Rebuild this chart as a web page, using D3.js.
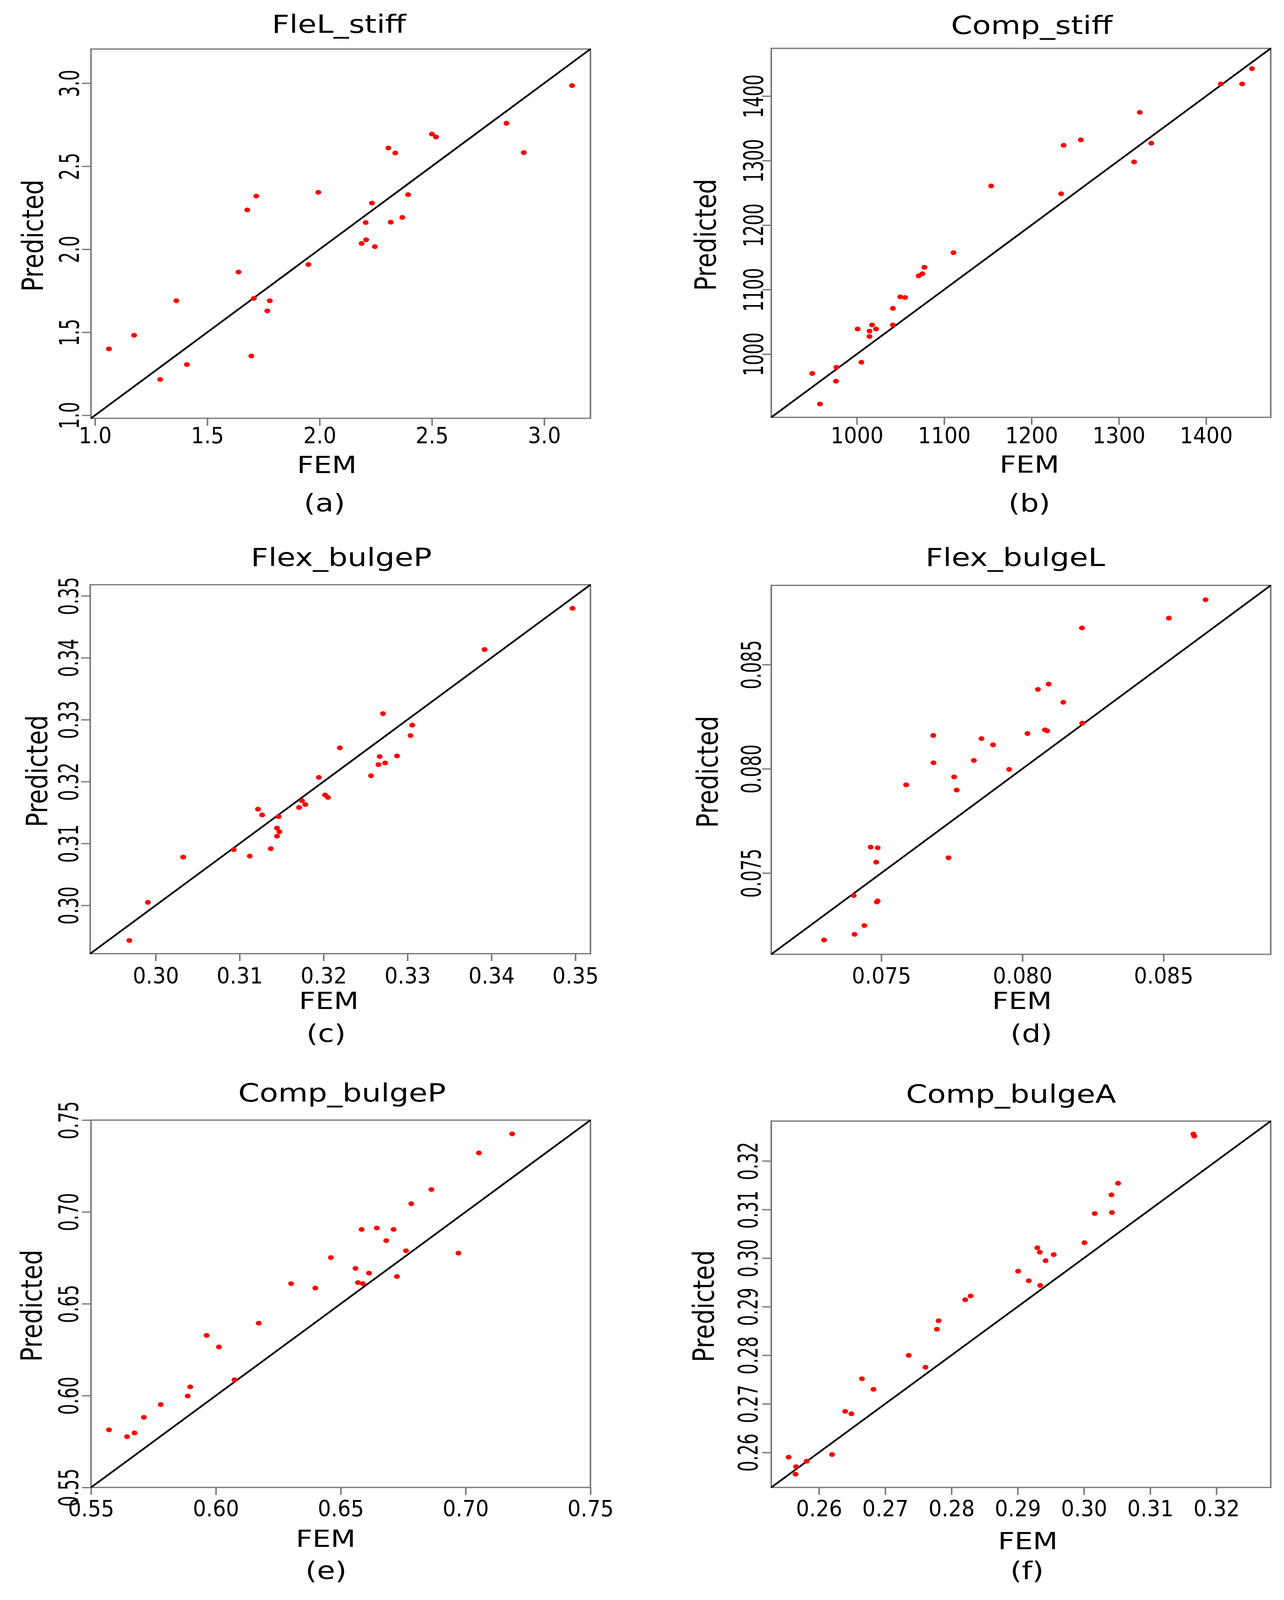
<!DOCTYPE html>
<html>
<head>
<meta charset="utf-8">
<script src="https://cdn.jsdelivr.net/npm/d3@7"></script>
<style>
  html, body { margin: 0; padding: 0; height: 100%; overflow: hidden; background: #fff; }
  svg { display: block; width: 100vw; height: 100vh; }
  text { font-family: "DejaVu Sans", Verdana, sans-serif; fill: #000; }
</style>
</head>
<body>
<div id="chart"></div>
<script>
const W = 3288;
const H = 4961;

// (a) FleL_stiff
const fleLFem  = [1.062, 1.174, 1.290, 1.362, 1.409, 1.639, 1.678, 1.718, 1.696, 1.707, 1.778, 1.767, 1.950, 1.994, 2.187, 2.205, 2.207, 2.233, 2.246, 2.306, 2.337, 2.317, 2.368, 2.394, 2.500, 2.518, 2.832, 2.909, 3.124];
const fleLPred = [1.400, 1.482, 1.216, 1.690, 1.306, 1.863, 2.237, 2.320, 1.357, 1.704, 1.690, 1.629, 1.908, 2.343, 2.035, 2.161, 2.057, 2.278, 2.016, 2.610, 2.580, 2.163, 2.192, 2.329, 2.694, 2.676, 2.759, 2.582, 2.986];

// (b) Comp_stiff
const compFem  = [948.9, 957.8, 976.6, 976.1, 1000.9, 1005.2, 1014.5, 1014.5, 1017.4, 1022.0, 1041.3, 1041.3, 1049.7, 1055.3, 1070.8, 1075.0, 1077.4, 1110.7, 1153.8, 1234.0, 1236.8, 1256.5, 1317.5, 1324.0, 1337.2, 1416.9, 1441.3, 1452.5];
const compPred = [970.0, 922.7, 979.5, 958.0, 1039.0, 987.4, 1035.7, 1027.3, 1045.2, 1039.0, 1071.0, 1045.2, 1088.8, 1087.8, 1121.4, 1124.6, 1134.6, 1157.2, 1260.7, 1248.6, 1323.8, 1332.2, 1298.0, 1374.8, 1327.0, 1418.9, 1418.9, 1442.6];

// (c) Flex_bulgeP
const bulgePFem  = [0.29687, 0.29907, 0.30328, 0.30930, 0.31121, 0.31219, 0.31268, 0.31371, 0.31445, 0.31474, 0.31445, 0.31464, 0.31709, 0.31743, 0.31783, 0.31944, 0.32018, 0.32052, 0.32194, 0.32566, 0.32654, 0.32669, 0.32733, 0.32708, 0.32875, 0.33036, 0.33056, 0.33918, 0.34966];
const bulgePPred = [0.29433, 0.30049, 0.30780, 0.30900, 0.30796, 0.31554, 0.31461, 0.30916, 0.31249, 0.31189, 0.31118, 0.31434, 0.31581, 0.31690, 0.31630, 0.32067, 0.31783, 0.31745, 0.32546, 0.32094, 0.32274, 0.32405, 0.32301, 0.33097, 0.32415, 0.32743, 0.32912, 0.34133, 0.34798];

// (d) Flex_bulgeL
const bulgeLFem  = [0.07297, 0.07405, 0.07440, 0.07402, 0.07484, 0.07487, 0.07482, 0.07462, 0.07487, 0.07588, 0.07684, 0.07685, 0.07738, 0.07758, 0.07767, 0.07828, 0.07855, 0.07896, 0.07953, 0.08018, 0.08055, 0.08080, 0.08088, 0.08093, 0.08145, 0.08211, 0.08212, 0.08519, 0.08649];
const bulgeLPred = [0.07179, 0.07206, 0.07248, 0.07392, 0.07361, 0.07366, 0.07552, 0.07624, 0.07621, 0.07923, 0.08160, 0.08029, 0.07573, 0.07961, 0.07898, 0.08040, 0.08145, 0.08115, 0.07997, 0.08169, 0.08381, 0.08187, 0.08182, 0.08406, 0.08319, 0.08676, 0.08219, 0.08723, 0.08811];

// (e) Comp_bulgeP
const cBulgePFem  = [0.55722, 0.56445, 0.56741, 0.57118, 0.57791, 0.58875, 0.58974, 0.59631, 0.60123, 0.60747, 0.61716, 0.63013, 0.63982, 0.64606, 0.65591, 0.65690, 0.65887, 0.65837, 0.66133, 0.66445, 0.66823, 0.67118, 0.67250, 0.67611, 0.67824, 0.68629, 0.69713, 0.70534, 0.71864];
const cBulgePPred = [0.58134, 0.57765, 0.57968, 0.58816, 0.59516, 0.59977, 0.60475, 0.63276, 0.62650, 0.60862, 0.63940, 0.66097, 0.65857, 0.67516, 0.66926, 0.66152, 0.66097, 0.69046, 0.66668, 0.69120, 0.68438, 0.69046, 0.66484, 0.67885, 0.70447, 0.71221, 0.67756, 0.73212, 0.74244];

// (f) Comp_bulgeA
const cBulgeAFem  = [0.25542, 0.25654, 0.25647, 0.25814, 0.26198, 0.26396, 0.26489, 0.26649, 0.26823, 0.27355, 0.27608, 0.27781, 0.27806, 0.28208, 0.28289, 0.29006, 0.29167, 0.29297, 0.29334, 0.29340, 0.29421, 0.29544, 0.30008, 0.30163, 0.30423, 0.30416, 0.30515, 0.31653, 0.31666];
const cBulgeAPred = [0.25902, 0.25707, 0.25553, 0.25819, 0.25958, 0.26845, 0.26796, 0.27516, 0.27299, 0.27998, 0.27753, 0.28536, 0.28710, 0.29143, 0.29220, 0.29730, 0.29534, 0.30212, 0.30121, 0.29437, 0.29947, 0.30072, 0.30317, 0.30917, 0.30938, 0.31302, 0.31539, 0.32552, 0.32510];

const titles  = ["FleL_stiff", "Comp_stiff", "Flex_bulgeP", "Flex_bulgeL", "Comp_bulgeP", "Comp_bulgeA"];
const letters = ["(a)", "(b)", "(c)", "(d)", "(e)", "(f)"];
const femSets  = [fleLFem, compFem, bulgePFem, bulgeLFem, cBulgePFem, cBulgeAFem];
const predSets = [fleLPred, compPred, bulgePPred, bulgeLPred, cBulgePPred, cBulgeAPred];

// axis limits (same for FEM and Predicted) and tick labels
const limits = [[0.982, 3.206], [902, 1474], [0.2922, 0.3518], [0.0711, 0.0888], [0.55, 0.75], [0.2528, 0.3282]];
const ticks = [
  [1.0, 1.5, 2.0, 2.5, 3.0],
  [1000, 1100, 1200, 1300, 1400],
  [0.30, 0.31, 0.32, 0.33, 0.34, 0.35],
  [0.075, 0.080, 0.085],
  [0.55, 0.60, 0.65, 0.70, 0.75],
  [0.26, 0.27, 0.28, 0.29, 0.30, 0.31, 0.32]
];
const tickFormats = [".1f", "d", ".2f", ".3f", ".2f", ".2f"];

// where each panel sits on the page (pixels)
const layout = [
  {x0: 233,  y0: 152,  w: 1279, h: 1145, title: [868, 102],   xlab: [837, 1467],  tag: [831, 1586],  ylab: 110,  ytick: 202,  xtick: 1375},
  {x0: 1975, y0: 150,  w: 1279, h: 1144, title: [2642, 105],  xlab: [2636, 1465], tag: [2636, 1586], ylab: 1833, ytick: 1954, xtick: 1375},
  {x0: 231,  y0: 1813, w: 1281, h: 1144, title: [874, 1755],  xlab: [842, 3128],  tag: [835, 3230],  ylab: 121,  ytick: 200,  xtick: 3050},
  {x0: 1975, y0: 1815, w: 1279, h: 1144, title: [2600, 1755], xlab: [2617, 3128], tag: [2641, 3230], ylab: 1838, ytick: 1948, xtick: 3050},
  {x0: 233,  y0: 3473, w: 1279, h: 1139, title: [876, 3415],  xlab: [834, 4796],  tag: [835, 4896],  ylab: 107,  ytick: 200,  xtick: 4702},
  {x0: 1975, y0: 3476, w: 1279, h: 1136, title: [2589, 3419], xlab: [2632, 4804], tag: [2630, 4896], ylab: 1828, ytick: 1940, xtick: 4702}
];

const BOX_COLOR = "#7a7a7a";
const TICK_LEN = 23;
const TICK_FONT = 70;
const TICK_SQUEEZE = 0.76;

// the drawing keeps its 3288x4961 coordinates and is fitted to the window
const svg = d3.select("#chart")
  .append("svg")
  .attr("viewBox", `0 0 ${W} ${H}`)
  .attr("preserveAspectRatio", "none");

svg.append("rect").attr("width", W).attr("height", H).attr("fill", "#fff");

titles.forEach((title, i) => {
  const L = layout[i];
  const x = d3.scaleLinear().domain(limits[i]).range([L.x0, L.x0 + L.w]);
  const y = d3.scaleLinear().domain(limits[i]).range([L.y0 + L.h, L.y0]);
  const fmt = d3.format(tickFormats[i]);
  const g = svg.append("g").attr("class", "panel");

  // bottom axis
  const gx = g.append("g")
    .attr("transform", `translate(0,${L.y0 + L.h})`)
    .call(d3.axisBottom(x).tickValues(ticks[i]).tickFormat(fmt).tickSize(TICK_LEN));
  gx.select(".domain").remove();
  gx.selectAll(".tick line").attr("stroke", BOX_COLOR).attr("stroke-width", 4);
  gx.selectAll(".tick text")
    .attr("y", L.xtick - (L.y0 + L.h))
    .attr("dy", 0)
    .attr("font-size", TICK_FONT)
    .attr("font-family", "DejaVu Sans")
    .attr("fill", "#000")
    .attr("transform", `scale(${TICK_SQUEEZE},1)`);

  // left axis
  const gy = g.append("g")
    .attr("transform", `translate(${L.x0},0)`)
    .call(d3.axisLeft(y).tickValues(ticks[i]).tickFormat(fmt).tickSize(TICK_LEN));
  gy.select(".domain").remove();
  gy.selectAll(".tick line").attr("stroke", BOX_COLOR).attr("stroke-width", 4);
  gy.selectAll(".tick text")
    .attr("x", 0)
    .attr("y", 0)
    .attr("dy", 0)
    .attr("text-anchor", "middle")
    .attr("font-size", TICK_FONT)
    .attr("font-family", "DejaVu Sans")
    .attr("fill", "#000")
    .attr("transform", `translate(${L.ytick - L.x0},0) rotate(-90) scale(${TICK_SQUEEZE},1)`);

  // plot frame
  g.append("rect")
    .attr("x", L.x0)
    .attr("y", L.y0)
    .attr("width", L.w)
    .attr("height", L.h)
    .attr("fill", "none")
    .attr("stroke", BOX_COLOR)
    .attr("stroke-width", 4);

  // 1:1 line
  const lo = limits[i][0], hi = limits[i][1];
  g.append("line")
    .attr("x1", x(lo)).attr("y1", y(lo))
    .attr("x2", x(hi)).attr("y2", y(hi))
    .attr("stroke", "#000")
    .attr("stroke-width", 5);

  // points
  const pts = femSets[i].map((v, k) => ({fem: v, pred: predSets[i][k]}));
  g.selectAll("circle.pt")
    .data(pts)
    .join("circle")
    .attr("class", "pt")
    .attr("cx", d => x(d.fem))
    .attr("cy", d => y(d.pred))
    .attr("r", 7.5)
    .attr("fill", "#ff0000");

  // texts
  g.append("text")
    .attr("x", L.title[0]).attr("y", L.title[1])
    .attr("text-anchor", "middle")
    .attr("font-size", 78)
    .text(title);

  g.append("text")
    .attr("x", L.xlab[0]).attr("y", L.xlab[1])
    .attr("text-anchor", "middle")
    .attr("font-size", 74)
    .text("FEM");

  g.append("text")
    .attr("transform", `translate(${L.ylab},${L.y0 + L.h / 2 + 6}) rotate(-90)`)
    .attr("text-anchor", "middle")
    .attr("font-size", 74)
    .text("Predicted");

  g.append("text")
    .attr("x", L.tag[0]).attr("y", L.tag[1])
    .attr("text-anchor", "middle")
    .attr("font-size", 76)
    .text(letters[i]);
});
</script>
</body>
</html>
